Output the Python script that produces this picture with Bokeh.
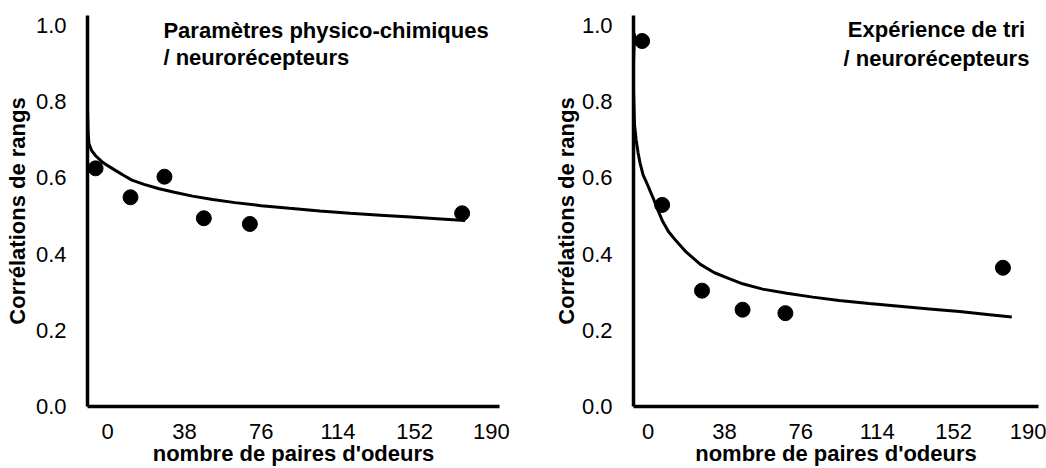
from bokeh.plotting import figure
from bokeh.models import Range1d, FixedTicker, Label, PrintfTickFormatter
from bokeh.layouts import row
from bokeh.embed import file_html
from bokeh.resources import INLINE

FONT = "Liberation Sans"

x_ticks = [0, 38, 76, 114, 152, 190]
y_ticks = [0.0, 0.2, 0.4, 0.6, 0.8, 1.0]

# Left panel: physico-chemical parameters / neuroreceptors
left_title = ["Paramètres physico-chimiques", "/ neurorécepteurs"]
left_pts_x = [-6.0, 11.3, 28.1, 47.6, 70.4, 175.5]
left_pts_y = [0.625, 0.549, 0.603, 0.494, 0.479, 0.507]
left_fit_x = [-10.0, -10.0, -9.7, -9.3, -8.0, -6.0, -3.0, 0.0, 4.0, 8.0, 12.0, 18.0, 25.0, 33.0,
              42.0, 52.0, 63.0, 76.0, 90.0, 105.0, 120.0, 135.0, 150.0, 165.0, 177.0]
left_fit_y = [0.864, 0.780, 0.720, 0.690, 0.672, 0.658, 0.643, 0.632, 0.619, 0.606, 0.594, 0.583,
              0.572, 0.562, 0.552, 0.543, 0.535, 0.527, 0.520, 0.513, 0.507, 0.502, 0.497, 0.492, 0.488]

# Right panel: sorting experiment / neuroreceptors
right_title = ["Expérience de tri", "/ neurorécepteurs"]
right_pts_x = [-3.0, 6.97, 26.8, 47.0, 68.3, 176.6]
right_pts_y = [0.959, 0.529, 0.304, 0.254, 0.245, 0.364]
right_fit_x = [-6.8, -7.3, -7.3, -6.8, -6.0, -5.0, -4.0, -2.5, -1.0, 0.0, 1.0, 2.5, 4.5, 7.0, 10.0,
               14.0, 19.0, 26.0, 33.0, 40.0, 47.0, 57.0, 69.0, 82.0, 95.0, 110.0, 125.0, 140.0,
               155.0, 170.0, 181.0]
right_fit_y = [0.979, 0.900, 0.830, 0.740, 0.700, 0.665, 0.638, 0.607, 0.590, 0.578, 0.565, 0.547,
               0.520, 0.488, 0.460, 0.434, 0.405, 0.373, 0.351, 0.336, 0.322, 0.308, 0.297, 0.287,
               0.278, 0.270, 0.263, 0.256, 0.249, 0.241, 0.235]

x_label = "nombre de paires d'odeurs"
y_label = "Corrélations de rangs"


def make_panel(width, x0, x1, y1, border_left, border_right, border_top, ylabel_standoff,
               fx, fy, px, py, title, tx, ty, talign):
    p = figure(width=width, height=468, output_backend="svg", toolbar_location=None,
               x_range=Range1d(x0, x1), y_range=Range1d(0, y1),
               min_border_left=border_left, min_border_right=border_right,
               min_border_top=border_top, min_border_bottom=61)
    p.outline_line_color = None
    p.grid.visible = False
    p.background_fill_color = "white"
    p.border_fill_color = "white"

    p.xaxis.ticker = FixedTicker(ticks=x_ticks)
    p.yaxis.ticker = FixedTicker(ticks=y_ticks)
    p.yaxis.formatter = PrintfTickFormatter(format="%.1f")
    for ax in (p.xaxis[0], p.yaxis[0]):
        ax.axis_line_width = 3.5
        ax.axis_line_color = "black"
        ax.major_tick_line_color = None
        ax.minor_tick_line_color = None
        ax.major_label_text_font = FONT
        ax.major_label_text_font_size = "22px"
        ax.major_label_text_color = "black"
        ax.axis_label_text_font = FONT
        ax.axis_label_text_font_size = "22px"
        ax.axis_label_text_font_style = "bold"
        ax.axis_label_text_color = "black"
    p.xaxis.axis_label = x_label
    p.yaxis.axis_label = y_label
    p.xaxis.major_label_standoff = 11
    p.xaxis.axis_label_standoff = -1
    p.yaxis.major_label_standoff = 15
    p.yaxis.axis_label_standoff = ylabel_standoff

    p.line(fx, fy, line_width=3, line_color="black")
    p.scatter(px, py, size=15, fill_color="black", line_color="black")

    for i, t in enumerate(title):
        p.add_layout(Label(x=tx, y=ty[i], text=t, text_font=FONT, text_font_size="22px",
                           text_font_style="bold", text_align=talign,
                           text_baseline="middle", text_color="black"))
    return p


left = make_panel(528, -10.0, 194.0, 1.026, 87, 29, 15, 3,
                  left_fit_x, left_fit_y, left_pts_x, left_pts_y,
                  left_title, 27.6, [0.987, 0.916], "left")
right = make_panel(518, -7.3, 194.3, 1.026, 105, 8, 12, 0,
                   right_fit_x, right_fit_y, right_pts_x, right_pts_y,
                   right_title, 143.5, [0.990, 0.912], "center")

layout = row(left, right, spacing=0)
open("out.html", "w").write(file_html(layout, INLINE))
